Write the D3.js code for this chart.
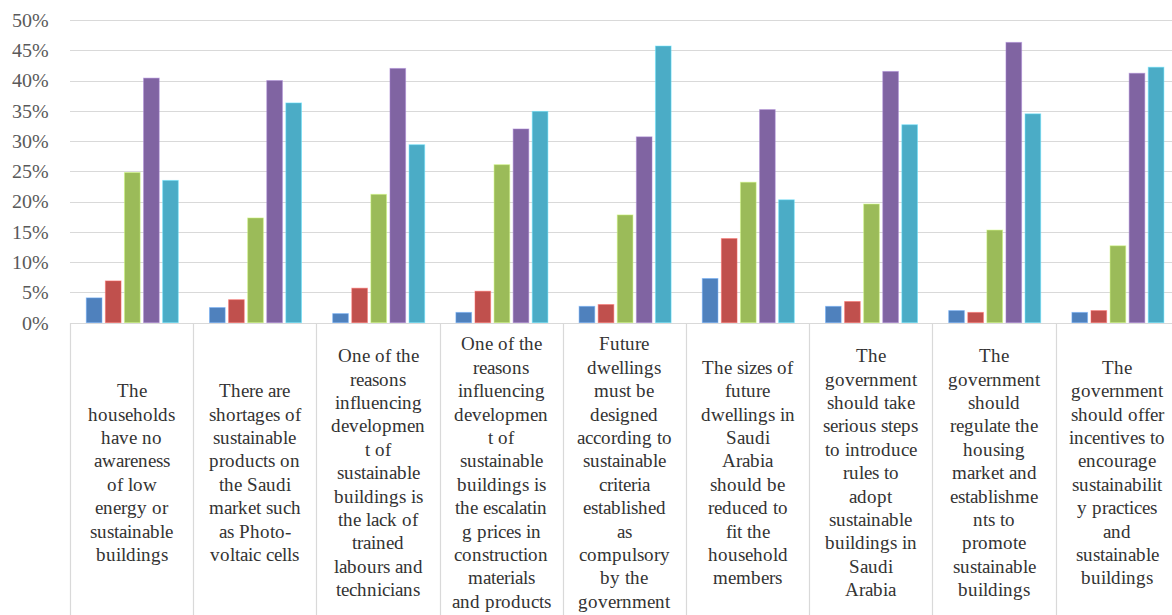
<!DOCTYPE html>
<html>
<head>
<meta charset="utf-8">
<script src="https://cdn.jsdelivr.net/npm/d3@7"></script>
<style>
  @font-face { font-family: "ChartSerif"; src: local("Liberation Serif"), local("LiberationSerif"), local("Liberation Serif Regular"), local("LiberationSerif-Regular"); }
  html, body { margin: 0; padding: 0; background: #fff; overflow: hidden; font-family: "Liberation Serif"; }
  svg { display: block; }
  .serif { font-family: "ChartSerif", "Liberation Serif", serif; }
</style>
</head>
<body>
<div id="holder"></div>
<script>
// ---- data ----
const categories = [
  ["The", "households", "have no", "awareness", "of low", "energy or", "sustainable", "buildings"],
  ["There are", "shortages of", "sustainable", "products on", "the Saudi", "market such", "as Photo-", "voltaic cells"],
  ["One of the", "reasons", "influencing", "developmen", "t of", "sustainable", "buildings is", "the lack of", "trained", "labours and", "technicians"],
  ["One of the", "reasons", "influencing", "developmen", "t of", "sustainable", "buildings is", "the escalatin", "g prices in", "construction", "materials", "and products"],
  ["Future", "dwellings", "must be", "designed", "according to", "sustainable", "criteria", "established", "as", "compulsory", "by the", "government"],
  ["The sizes of", "future", "dwellings in", "Saudi", "Arabia", "should be", "reduced to", "fit the", "household", "members"],
  ["The", "government", "should take", "serious steps", "to introduce", "rules to", "adopt", "sustainable", "buildings in", "Saudi", "Arabia"],
  ["The", "government", "should", "regulate the", "housing", "market and", "establishme", "nts to", "promote", "sustainable", "buildings"],
  ["The", "government", "should offer", "incentives to", "encourage", "sustainabilit", "y practices", "and", "sustainable", "buildings"]
];
const seriesNames = ["S1", "S2", "S3", "S4", "S5"];
const series1 = [4.1, 2.5, 1.5, 1.7, 2.7, 7.3, 2.7, 2.0, 1.7];
const series2 = [6.9, 3.8, 5.7, 5.2, 3.0, 13.9, 3.5, 1.7, 2.0];
const series3 = [24.8, 17.3, 21.2, 26.1, 17.8, 23.2, 19.6, 15.3, 12.7];
const series4 = [40.4, 40.0, 42.0, 32.0, 30.7, 35.2, 41.5, 46.3, 41.2];
const series5 = [23.5, 36.3, 29.4, 34.9, 45.7, 20.3, 32.7, 34.5, 42.2];
const seriesColors = ["#4F81BD", "#C0504D", "#9BBB59", "#8064A2", "#4BACC6"];
const yTicks = [0, 5, 10, 15, 20, 25, 30, 35, 40, 45, 50];

const allSeries = [series1, series2, series3, series4, series5];

// ---- layout ----
const svg = d3.select("#holder").append("svg")
  .attr("width", 1172).attr("height", 615)
  .attr("class", "serif");
const plotLeft = 70, plotTop = 20, baseY = 322.7, bandW = 123.2;
const catIdx = categories.map((_, i) => i);

const x0 = d3.scaleBand().domain(catIdx).range([plotLeft, plotLeft + bandW * categories.length]).padding(0);
const x1 = d3.scaleBand().domain(seriesNames).range([16.3, 108.3]).paddingInner(0.18).paddingOuter(0);
const y = d3.scaleLinear().domain([0, 50]).range([baseY, plotTop]);

const gridColor = "#d9d9d9";

// gridlines
svg.append("g")
  .selectAll("line")
  .data(yTicks.filter(t => t > 0))
  .join("line")
  .attr("x1", plotLeft).attr("x2", 1172)
  .attr("y1", d => Math.round(y(d)) + 0.5).attr("y2", d => Math.round(y(d)) + 0.5)
  .attr("stroke", gridColor).attr("stroke-width", 1.2);

// y axis labels
svg.append("g")
  .selectAll("text")
  .data(yTicks)
  .join("text")
  .attr("class", "serif")
  .attr("x", 49)
  .attr("y", d => y(d))
  .attr("dy", "0.34em")
  .attr("text-anchor", "end")
  .attr("font-size", 20)
  .attr("fill", "#595959")
  .text(d => d + "%");

// bars
const gGroups = svg.append("g")
  .selectAll("g")
  .data(catIdx)
  .join("g")
  .attr("transform", i => `translate(${x0(i)},0)`);

gGroups.selectAll("rect")
  .data(i => allSeries.map((s, k) => ({ name: seriesNames[k], value: s[i], color: seriesColors[k] })))
  .join("rect")
  .attr("x", d => x1(d.name))
  .attr("width", x1.bandwidth())
  .attr("y", d => y(d.value))
  .attr("height", d => baseY - y(d.value))
  .attr("fill", d => d.color)
  .attr("stroke", d => d3.color(d.color).brighter(0.8))
  .attr("stroke-opacity", 0.5)
  .attr("stroke-width", 1);

// x axis baseline and category separators
svg.append("line")
  .attr("x1", plotLeft).attr("x2", 1172)
  .attr("y1", Math.round(baseY) + 0.5).attr("y2", Math.round(baseY) + 0.5)
  .attr("stroke", gridColor).attr("stroke-width", 1.2);

const seps = catIdx.map(i => x0(i)).concat([x0(categories.length - 1) + x0.bandwidth()]);
svg.append("g")
  .selectAll("line")
  .data(seps)
  .join("line")
  .attr("x1", d => Math.round(d) + 0.5).attr("x2", d => Math.round(d) + 0.5)
  .attr("y1", Math.round(baseY)).attr("y2", 615)
  .attr("stroke", gridColor).attr("stroke-width", 1.2);

// category labels (one text per line, vertically centred)
const lineH = 23.4, centerY = 472.5;
const labelLines = [];
categories.forEach((lines, i) => {
  const startY = centerY - (lines.length - 1) * lineH / 2;
  lines.forEach((t, k) => labelLines.push({ i, t, yy: startY + k * lineH }));
});
svg.append("g")
  .selectAll("text")
  .data(labelLines)
  .join("text")
  .attr("class", "serif")
  .attr("x", d => x0(d.i) + x0.bandwidth() / 2)
  .attr("y", d => d.yy)
  .attr("dy", "0.35em")
  .attr("text-anchor", "middle")
  .attr("font-size", 19)
  .attr("fill", "#333333")
  .text(d => d.t);
</script>
</body>
</html>
